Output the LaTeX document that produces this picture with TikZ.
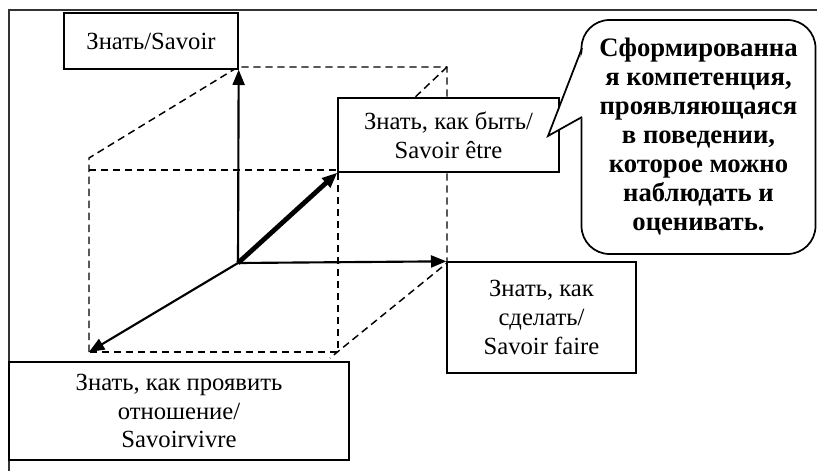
\documentclass[tikz,border=0pt]{standalone}
\usepackage{fontspec}
\setmainfont{Liberation Serif}
\usetikzlibrary{arrows.meta,positioning}

\begin{document}
\begin{tikzpicture}[x=0.75pt, y=-0.75pt, >={Triangle[length=11.5pt,width=9pt]},
    box/.style={draw, line width=1pt, fill=white, align=center, inner sep=0pt,
      font=\fontsize{18.5}{21.5}\selectfont},
    hidden/.style={dash pattern=on 5.5pt off 3.5pt, line width=1.1pt},
    arrowline/.style={->, line width=1.6pt}]
    \fill[white] (0,0) rectangle (817,471);
    \useasboundingbox (0,0) rectangle (817,471);
    % Frame
    \draw[line width=0.8pt, black!80] (817,10) -- (9,10) -- (9,471);

    % Cube
    \coordinate (O) at (238,263);
    \coordinate (ftk) at (89,158);
    \coordinate (ftl) at (89,170);
    \coordinate (ftr) at (338,170);
    \coordinate (fbr) at (338,352);
    \coordinate (fbl) at (89,352);
    \coordinate (btl) at (238,67);
    \coordinate (btr) at (447,67);
    \coordinate (bbr) at (447,263);
    \coordinate (bend) at (330,358);
    \draw[hidden] (fbl) -- (ftk) -- (btl) -- (btr) -- (bbr) -- (bend);
    \draw[hidden] (ftl) -- (ftr) -- (fbr) -- (fbl);
    \draw[hidden] (btr) -- (ftr);

    % Boxes
    \node[box, minimum width=130.5pt, minimum height=42pt] (savoir) at (151,41) {Знать/Savoir};
    \node[box, minimum width=165.75pt, minimum height=55.5pt] (etre) at (448.5,135) {Знать, как быть/\\Savoir être};
    \node[box, minimum width=141.75pt, minimum height=83.25pt] (faire) at (541.5,317.5) {Знать, как\\сделать/\\Savoir faire};
    \node[box, minimum width=255pt, minimum height=73.5pt] (vivre) at (179,411) {Знать, как проявить\\отношение/\\Savoirvivre};

    % Axes
    \draw[arrowline] (O) -- (savoir.south east);
    \draw[arrowline] (O) -- (faire.north west);
    \draw[arrowline] (O) -- (fbl);
    \draw[->, line width=3.6pt] (O) -- (etre.south west);

    % Callout
    \node[draw, line width=1.3pt, rounded corners=21pt, fill=white, align=center,
      minimum width=175.5pt, minimum height=175.5pt, inner sep=0pt,
      font=\fontsize{20}{21.75}\selectfont\bfseries] (note) at (698.5,137)
      {Сформированна\\я компетенция,\\проявляющаяся\\в поведении,\\которое можно\\наблюдать и\\оценивать.};
    \coordinate (pa) at (582,48);
    \coordinate (pt) at (548,136);
    \coordinate (pb) at (582,117);
    \fill[white] (584,49) -- (pt) -- (584,117) -- cycle;
    \draw[line width=1.3pt, line join=miter] (pa) -- (pt) -- (pb);
\end{tikzpicture}
\end{document}
